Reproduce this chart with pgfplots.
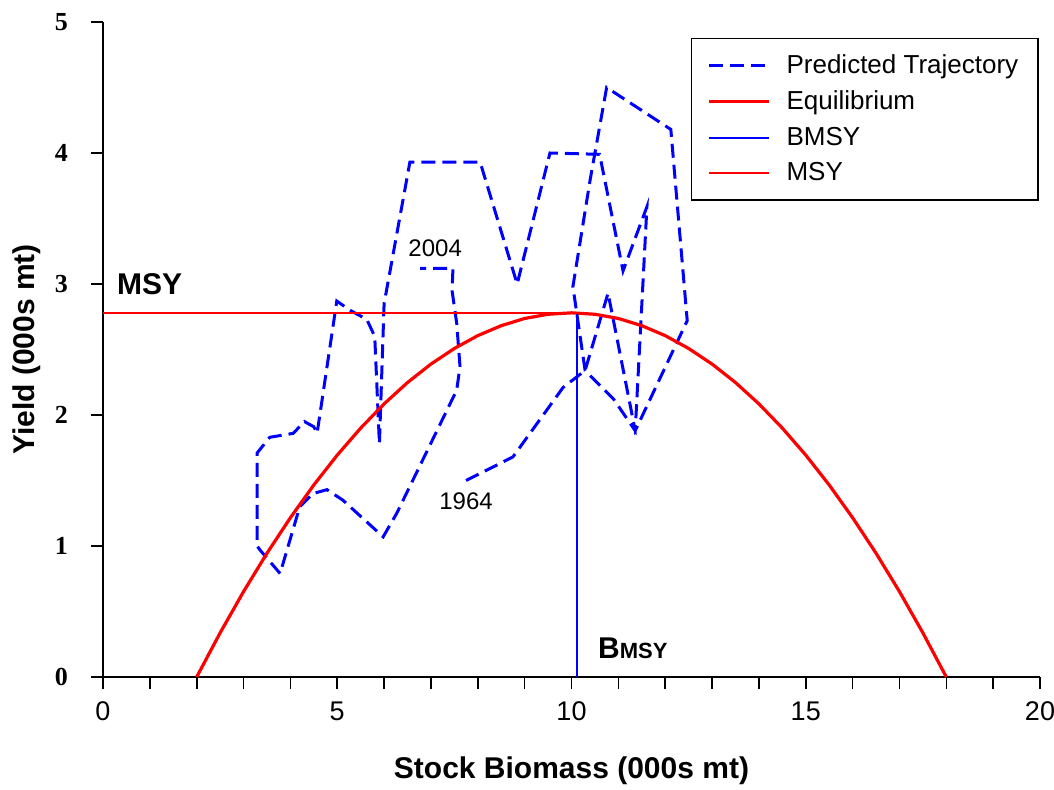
\documentclass[border=0pt]{standalone}
\usepackage{fontspec}
\setmainfont{Liberation Sans}
\newfontfamily\serifb{Liberation Serif}
\usepackage{pgfplots}
\pgfplotsset{compat=1.18}
\definecolor{trajblue}{RGB}{0,0,255}
\definecolor{eqred}{RGB}{255,0,0}
\begin{document}
\begin{tikzpicture}
\path[use as bounding box] (-51.5pt,-56pt) rectangle (475.5pt,338.5pt);
\begin{axis}[
  scale only axis,
  width=468.5pt, height=327.5pt,
  xmin=0, xmax=20, ymin=0, ymax=5,
  axis lines=left,
  axis line style={-, black, line width=0.8pt},
  xtick={0,5,10,15,20},
  minor xtick={1,2,3,4,6,7,8,9,11,12,13,14,16,17,18,19},
  ytick={0,1,2,3,4,5},
  tick align=outside,
  major tick length=6pt,
  minor tick length=6pt,
  tick style={black, line width=0.8pt},
  x tick label style={font=\fontsize{13.5}{13.5}\selectfont, yshift=-3pt},
  y tick label style={font=\fontsize{13}{13}\selectfont\serifb\bfseries, xshift=-8pt},
  /pgf/number format/assume math mode=true,
  xlabel={\textbf{Stock Biomass (000s mt)}},
  ylabel={\textbf{Yield (000s mt)}},
  xlabel style={font=\fontsize{15}{15}\selectfont, yshift=-11pt},
  ylabel style={font=\fontsize{15}{15}\selectfont, yshift=0pt},
  clip=false,
  legend style={at={(rel axis cs:0.999,0.976)}, anchor=north east,
    draw=black, line width=0.8pt, font=\fontsize{13}{13}\selectfont,
    row sep=3.2pt, inner xsep=8pt, inner ysep=6pt},
  legend cell align=left,
  legend image code/.code={\draw[#1] (0pt,0pt) -- (30pt,0pt); \path (36pt,0pt);},
]
\addplot[trajblue, line width=1.5pt, dash pattern=on 7pt off 3.5pt] coordinates {
(7.75,1.50) (8.75,1.68) (9.82,2.21) (10.29,2.34)
(10.78,2.93) (11.36,1.88) (12.47,2.72) (12.12,4.18) (10.75,4.50)
(10.40,3.80) (10.03,2.98) (10.29,2.34) (10.90,2.12) (11.36,1.88)
(11.61,3.59) (11.10,3.10) (10.60,3.99) (9.54,4.00) (8.84,3.00)
(8.05,3.93) (6.55,3.93) (6.00,2.85) (5.90,1.78) (5.80,2.60)
(5.63,2.73) (5.27,2.80) (4.99,2.87) (4.57,1.86) (4.50,1.91)
(4.30,1.95) (4.06,1.86) (3.56,1.83) (3.29,1.71) (3.29,1.00)
(3.35,0.97) (3.78,0.79) (4.20,1.30) (4.48,1.40) (4.78,1.43)
(5.12,1.35) (5.98,1.07) (6.27,1.25) (7.55,2.19) (7.62,2.37)
(7.55,2.70) (7.45,2.95) (7.47,3.12) (6.77,3.12)
};
\addlegendentry{Predicted Trajectory}
\addplot[eqred, line width=1.6pt] coordinates {
(2,0) (2.5,0.337) (3,0.652) (3.5,0.945) (4,1.216) (4.5,1.466) (5,1.694)
(5.5,1.900) (6,2.085) (6.5,2.248) (7,2.389) (7.5,2.508) (8,2.606)
(8.5,2.682) (9,2.737) (9.5,2.769) (10,2.780) (10.5,2.769) (11,2.737)
(11.5,2.682) (12,2.606) (12.5,2.508) (13,2.389) (13.5,2.248) (14,2.085)
(14.5,1.900) (15,1.694) (15.5,1.466) (16,1.216) (16.5,0.945) (17,0.652)
(17.5,0.337) (18,0)
};
\addlegendentry{Equilibrium}
\addplot[trajblue, line width=0.9pt,
  legend image code/.code={\draw[trajblue, line width=1pt] (0pt,0pt) -- (30pt,0pt); \path (36pt,0pt);}]
  coordinates {(10.12,0) (10.12,2.78)};
\addlegendentry{BMSY}
\addplot[eqred, line width=0.8pt] coordinates {(0,2.78) (10.12,2.78)};
\addlegendentry{MSY}
\node[font=\fontsize{15}{15}\selectfont\bfseries, anchor=west] at (axis cs:0.15,3.0) {MSY};
\node[font=\fontsize{15}{15}\selectfont\bfseries, anchor=west] at (axis cs:10.42,0.22) {B{\fontsize{11}{11}\selectfont MSY}};
\node[font=\fontsize{12}{12}\selectfont, anchor=center] at (axis cs:7.09,3.27) {2004};
\node[font=\fontsize{12}{12}\selectfont, anchor=center] at (axis cs:7.75,1.34) {1964};
\end{axis}
\end{tikzpicture}
\end{document}
